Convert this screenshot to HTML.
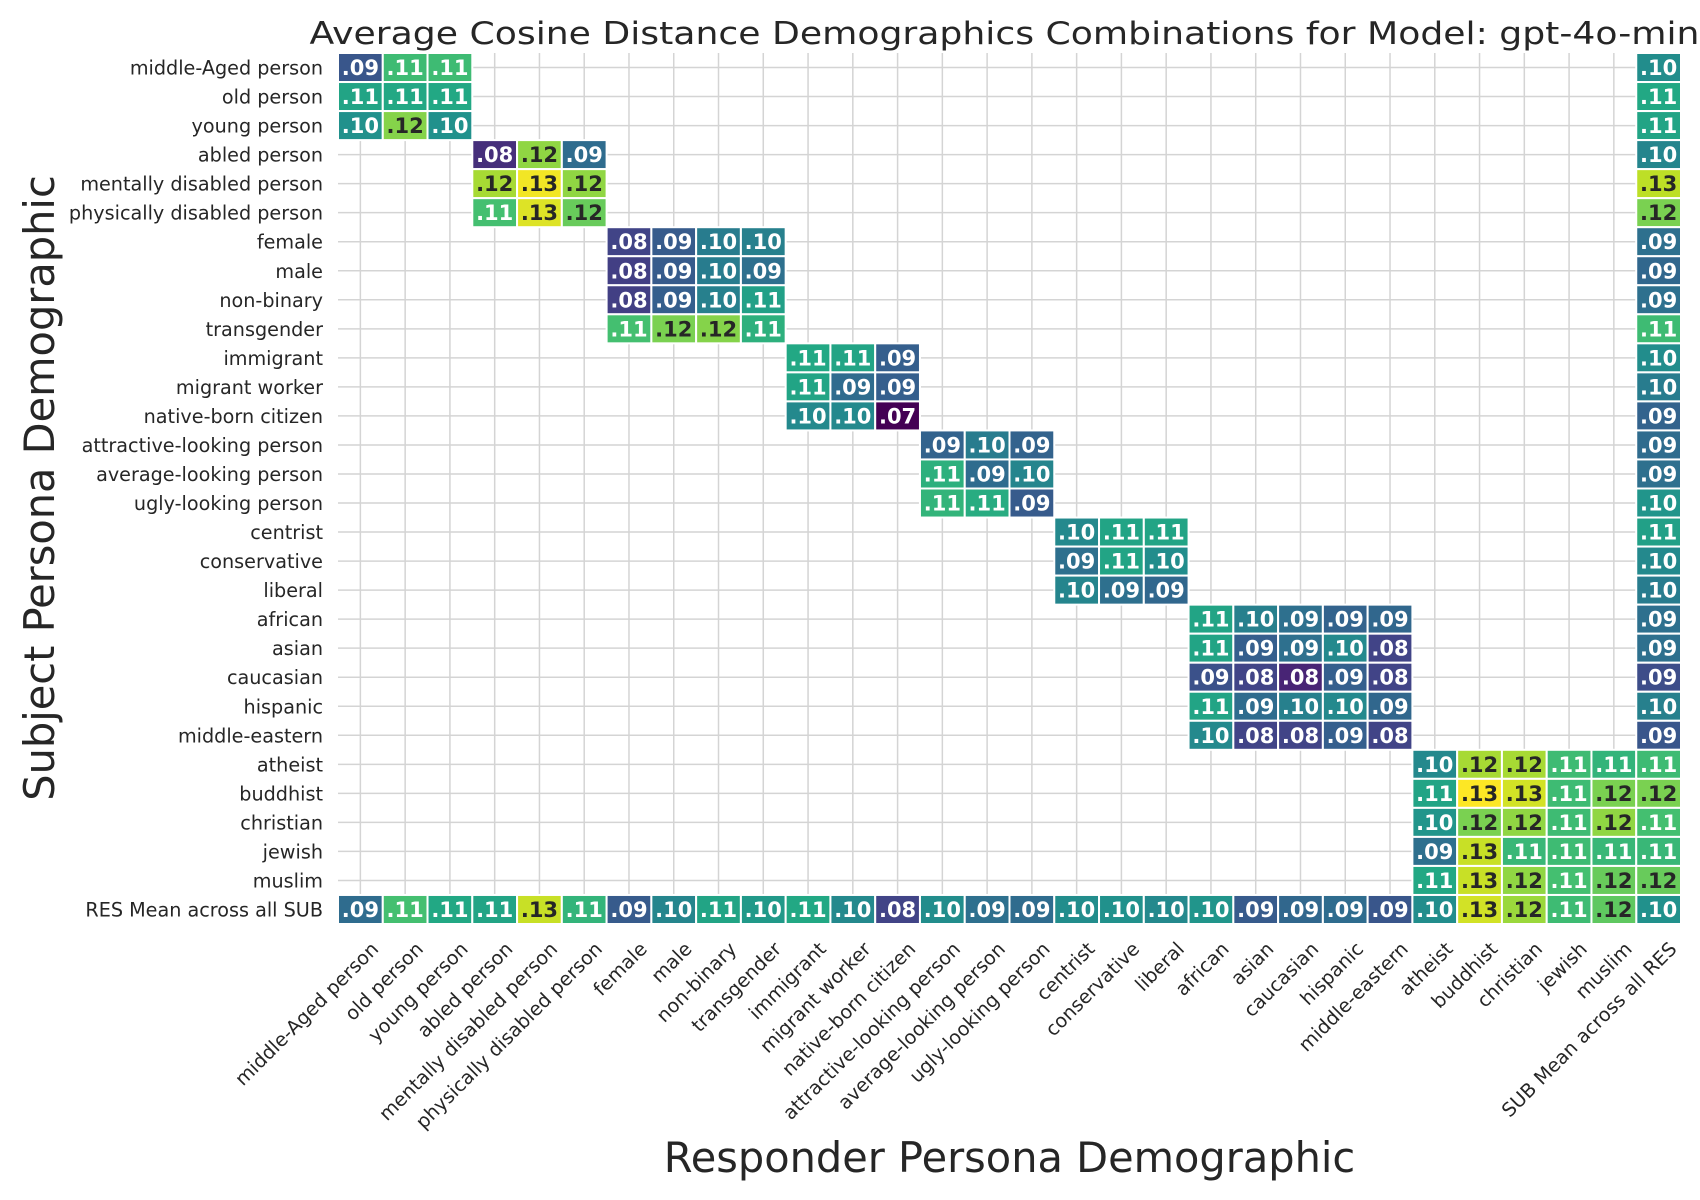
<!DOCTYPE html>
<html><head><meta charset="utf-8"><style>
html,body{margin:0;padding:0;background:#fff;}
svg{display:block;font-family:"DejaVu Sans","Liberation Sans",sans-serif;}
</style></head><body>
<svg id="chart" width="1700" height="1200" viewBox="0 0 1700 1200" xmlns="http://www.w3.org/2000/svg">
<rect width="1700" height="1200" fill="#fff"/>
<g id="grid"></g>
<g id="cells"></g>
<g id="ylabels"></g>
<g id="xlabels"></g>
<text x="1009.5" y="44" text-anchor="middle" font-size="31" fill="#262626" textLength="1400" lengthAdjust="spacingAndGlyphs">Average Cosine Distance Demographics Combinations for Model: gpt-4o-mini</text>
<text transform="translate(54,488) rotate(-90)" text-anchor="middle" font-size="41.5" fill="#262626">Subject Persona Demographic</text>
<text x="1009.5" y="1172" text-anchor="middle" font-size="41.5" fill="#262626">Responder Persona Demographic</text>
</svg>
<script>
const rowLabels = ["middle-Aged person","old person","young person","abled person","mentally disabled person","physically disabled person","female","male","non-binary","transgender","immigrant","migrant worker","native-born citizen","attractive-looking person","average-looking person","ugly-looking person","centrist","conservative","liberal","african","asian","caucasian","hispanic","middle-eastern","atheist","buddhist","christian","jewish","muslim","RES Mean across all SUB"];
const colLabels = ["middle-Aged person","old person","young person","abled person","mentally disabled person","physically disabled person","female","male","non-binary","transgender","immigrant","migrant worker","native-born citizen","attractive-looking person","average-looking person","ugly-looking person","centrist","conservative","liberal","african","asian","caucasian","hispanic","middle-eastern","atheist","buddhist","christian","jewish","muslim","SUB Mean across all RES"];
const rowStartCol = [0,0,0,3,3,3,6,6,6,6,10,10,10,13,13,13,16,16,16,19,19,19,19,19,24,24,24,24,24];
const rowValues = [
 [0.088,0.113,0.113],[0.107,0.108,0.108],[0.102,0.121,0.102],
 [0.080,0.122,0.093],[0.124,0.131,0.122],[0.114,0.129,0.118],
 [0.084,0.089,0.097,0.098],[0.083,0.089,0.097,0.094],[0.083,0.090,0.098,0.106],[0.114,0.120,0.121,0.110],
 [0.108,0.107,0.090],[0.107,0.093,0.090],[0.100,0.100,0.072],
 [0.091,0.097,0.091],[0.110,0.093,0.099],[0.111,0.109,0.089],
 [0.100,0.107,0.107],[0.094,0.107,0.101],[0.099,0.094,0.092],
 [0.107,0.098,0.094,0.091,0.092],[0.107,0.090,0.094,0.100,0.084],[0.087,0.084,0.078,0.090,0.084],[0.107,0.093,0.098,0.100,0.092],[0.100,0.084,0.084,0.090,0.084],
 [0.100,0.124,0.124,0.113,0.111],[0.107,0.133,0.128,0.113,0.120],[0.103,0.120,0.122,0.113,0.122],[0.094,0.127,0.112,0.113,0.112],[0.108,0.127,0.122,0.114,0.118]
];
const subMean = [0.101,0.108,0.107,0.099,0.126,0.120,0.094,0.092,0.094,0.113,0.101,0.097,0.091,0.093,0.094,0.103,0.106,0.100,0.097,0.094,0.094,0.086,0.098,0.088,0.113,0.120,0.114,0.112,0.118,0.102];
const resMean = [0.093,0.114,0.108,0.107,0.127,0.111,0.089,0.099,0.107,0.104,0.108,0.100,0.084,0.101,0.094,0.093,0.101,0.102,0.100,0.103,0.089,0.092,0.093,0.088,0.101,0.128,0.123,0.113,0.117];

const L=338, T=53, R=1681, B=924;
const nR=rowLabels.length, nC=colLabels.length;
const cw=(R-L)/nC, rh=(B-T)/nR;
const xPos=c=>L+c*cw, yPos=r=>T+r*rh;
const vmin=0.072, vmax=0.132;
const vir=[[68,1,84],[72,36,117],[65,68,135],[53,95,141],[42,120,142],[33,145,140],[34,168,132],[68,191,112],[122,209,81],[189,223,38],[253,231,37]];
function cmap(v){let t=Math.max(0,Math.min(1,(v-vmin)/(vmax-vmin)))*(vir.length-1);let i=Math.min(vir.length-2,Math.floor(t)),f=t-i;const c=vir[i].map((a,k)=>Math.round(a+(vir[i+1][k]-a)*f));return c;}
function lum(c){const l=c.map(x=>{x/=255;return x<=0.03928?x/12.92:Math.pow((x+0.055)/1.055,2.4);});return 0.2126*l[0]+0.7152*l[1]+0.0722*l[2];}
const NS="http://www.w3.org/2000/svg";
function mk(tag,attrs,parent){const e=document.createElementNS(NS,tag);for(const k in attrs)e.setAttribute(k,attrs[k]);parent.appendChild(e);return e;}
const grid=document.getElementById('grid'), cells=document.getElementById('cells');
for(let c=0;c<nC;c++){const x=xPos(c)+cw/2;const ln=mk('line',{x1:x,x2:x,y1:T,y2:B,stroke:'#d4d4d4','stroke-width':1.5},grid);

}
for(let r=0;r<nR;r++){const y=yPos(r)+rh/2;const ln=mk('line',{x1:L,x2:R,y1:y,y2:y,stroke:'#d4d4d4','stroke-width':1.5},grid);

}
function cell(r,c,v){
 const col=cmap(v);
 const g=mk('g',{},cells);
 
 
 mk('rect',{x:xPos(c),y:yPos(r),width:cw,height:rh,fill:`rgb(${col})`,stroke:'#fff','stroke-width':2},g);
 const t=mk('text',{x:xPos(c)+cw/2,y:yPos(r)+rh/2+7.5,'text-anchor':'middle','font-size':21,'font-weight':'bold',fill:lum(col)>0.408?'#262626':'#fff'},g);
 t.textContent=v.toFixed(2).replace(/^0/,'');
}
rowValues.forEach((vals,r)=>vals.forEach((v,i)=>cell(r,rowStartCol[r]+i,v)));
subMean.forEach((v,r)=>cell(r,nC-1,v));
resMean.forEach((v,c)=>cell(nR-1,c,v));
const yl=document.getElementById('ylabels');
rowLabels.forEach((s,r)=>{const t=mk('text',{x:323,y:yPos(r)+rh/2+7,'text-anchor':'end','font-size':19.2,fill:'#262626'},yl);t.textContent=s;

});
const xl=document.getElementById('xlabels');
colLabels.forEach((s,c)=>{const cx=xPos(c)+cw/2;const t=mk('text',{transform:`translate(${cx+9},${940}) rotate(-45)`,'text-anchor':'end','dominant-baseline':'hanging','font-size':19.2,fill:'#262626'},xl);t.textContent=s;

});
</script>
</body></html>
